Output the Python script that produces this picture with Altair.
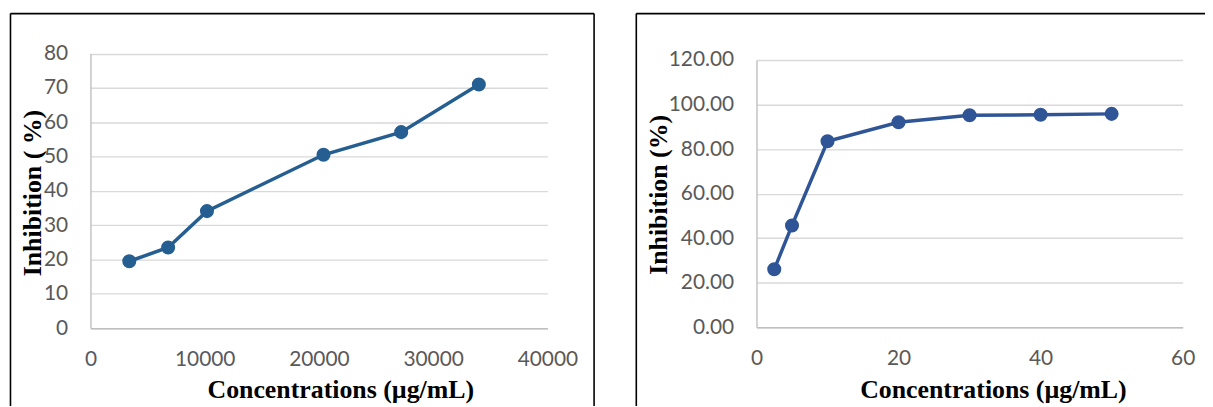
import altair as alt
import pandas as pd

# Left panel data
conc_left = [3400, 6800, 10200, 20400, 27200, 34000]
inhib_left = [19.5, 23.5, 34.1, 50.5, 57.1, 71.0]

# Right panel data
conc_right = [2.5, 5, 10, 20, 30, 40, 50]
inhib_right = [26.0, 45.7, 83.5, 92.0, 95.2, 95.4, 95.8]

x_title = "Concentrations (µg/mL)"
y_title_left = "Inhibition ( %)"
y_title_right = "Inhibition (%)"

LABEL_FONT = "Lato"
TITLE_FONT = "Liberation Serif"
LABEL_COLOR = "#595959"
GRID_COLOR = "#d9d9d9"
AXIS_COLOR = "#bfbfbf"


def frame_lines(bx, bx2, by, by2, right_edge):
    one = alt.Chart(pd.DataFrame({"a": [0]}))
    style = dict(color="black", strokeWidth=1.6)
    parts = [
        one.mark_rule(**style).encode(x=alt.value(bx), x2=alt.value(bx2), y=alt.value(by)),
        one.mark_rule(**style).encode(x=alt.value(bx), y=alt.value(by), y2=alt.value(by2)),
    ]
    if right_edge:
        parts.append(one.mark_rule(**style).encode(x=alt.value(bx2), y=alt.value(by), y2=alt.value(by2)))
    return parts


def panel(xs, ys, color, x_dom, x_ticks, x_fmt, y_dom, y_ticks, y_fmt,
          ytitle, w, h, y_top, border, right_edge, xtitle_x, xtitle_y, ytitle_x, ytitle_y):
    df = pd.DataFrame({"x": xs, "y": ys})
    xaxis = alt.Axis(values=x_ticks, format=x_fmt, grid=False, ticks=False, tickSize=0,
                     labelFont=LABEL_FONT, labelFontSize=21, labelColor=LABEL_COLOR,
                     labelBaseline="middle", labelPadding=32, labelFlush=False,
                     domainColor=AXIS_COLOR, domainWidth=1.4,
                     title=x_title, titleFont=TITLE_FONT, titleFontSize=26,
                     titleFontWeight="bold", titleColor="black",
                     titleAlign="center", titleBaseline="alphabetic",
                     titleX=xtitle_x, titleY=xtitle_y)
    yaxis = alt.Axis(values=y_ticks, format=y_fmt, grid=True, gridColor=GRID_COLOR,
                     gridWidth=1.4, ticks=False, tickSize=0,
                     labelFont=LABEL_FONT, labelFontSize=21, labelColor=LABEL_COLOR,
                     labelPadding=23, labelFlush=False,
                     domainColor=AXIS_COLOR, domainWidth=1.4,
                     title=ytitle, titleFont=TITLE_FONT, titleFontSize=26,
                     titleFontWeight="bold", titleColor="black",
                     titleAlign="center", titleBaseline="alphabetic",
                     titleAngle=270, titleX=ytitle_x, titleY=ytitle_y)
    xenc = alt.X("x:Q", scale=alt.Scale(domain=x_dom, nice=False, zero=True), axis=xaxis)
    yenc = alt.Y("y:Q", scale=alt.Scale(domain=y_dom, nice=False, range=[h, y_top]),
                 axis=yaxis)
    base = alt.Chart(df).encode(x=xenc, y=yenc)
    line = base.mark_line(color=color, strokeWidth=3.5)
    pts = base.mark_circle(color=color, size=200, opacity=1)
    bx, bx2, by, by2 = border
    return alt.layer(*frame_lines(bx, bx2, by, by2, right_edge), line, pts).properties(
        width=w, height=h)


# both views start at the same top (page y ~58.7); the left one's scale reaches higher
left = panel(conc_left, inhib_left, "#255E91",
             [0, 40000], [0, 10000, 20000, 30000, 40000], "d",
             [0, 80], [0, 10, 20, 30, 40, 50, 60, 70, 80], "d",
             y_title_left, 460, 270, -6.5,
             (-80.5, 507, -46.7, 361.3), True,
             251.5, 69.5, -50.5, 133.5)

right = panel(conc_right, inhib_right, "#2F5597",
              [0, 60], [0, 20, 40, 60], "d",
              [0, 120], [0, 20, 40, 60, 80, 100, 120], ".2f",
              y_title_right, 429, 269, 0,
              (-121, 462, -46.7, 361.3), False,
              238, 70.5, -90.5, 135.3)

chart = alt.hconcat(left, right, spacing=38.5).properties(
    padding={"left": 1, "top": 3, "right": -12, "bottom": -16}
).configure_view(stroke="transparent")

chart.save("out.html", embed_options={"renderer": "svg", "actions": False})
